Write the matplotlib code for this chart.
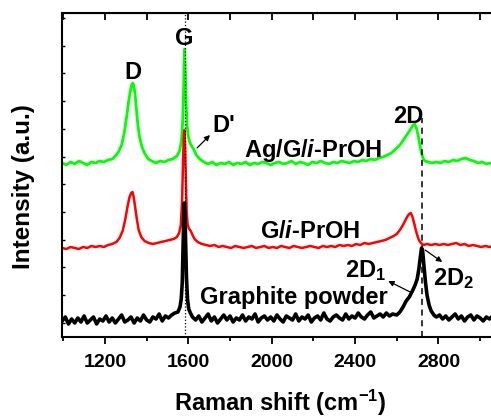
import matplotlib
matplotlib.use("Agg")
import matplotlib.pyplot as plt
from matplotlib.ticker import MultipleLocator

plt.rcParams['font.family'] = ['Liberation Sans', 'DejaVu Sans']
plt.rcParams['font.weight'] = 'bold'
plt.rcParams['mathtext.fontset'] = 'custom'
plt.rcParams['mathtext.rm'] = 'Liberation Sans:bold'
plt.rcParams['mathtext.bf'] = 'Liberation Sans:bold'
plt.rcParams['mathtext.it'] = 'Liberation Sans:italic:bold'

# Ag/G/i-PrOH spectrum (green), offset intensity
green_x = [995, 1015, 1035, 1055, 1075, 1095, 1115, 1135, 1155, 1175, 1195, 1215, 1235, 1250,
           1265, 1280, 1292, 1304, 1314, 1322, 1328, 1334, 1338, 1344, 1350, 1357, 1366, 1378,
           1392, 1408, 1425, 1445, 1465, 1485, 1505, 1525, 1545, 1558, 1567, 1573, 1577, 1580,
           1582, 1585, 1589, 1594, 1600, 1608, 1616, 1625, 1638, 1655, 1675, 1695, 1715, 1735,
           1755, 1775, 1795, 1815, 1835, 1855, 1875, 1895, 1915, 1935, 1955, 1975, 1995, 2015,
           2035, 2055, 2075, 2095, 2115, 2135, 2155, 2175, 2195, 2215, 2235, 2255, 2275, 2295,
           2315, 2335, 2355, 2375, 2395, 2415, 2435, 2455, 2475, 2495, 2515, 2535, 2555, 2575,
           2595, 2615, 2632, 2648, 2660, 2670, 2678, 2686, 2694, 2702, 2710, 2718, 2726, 2735,
           2750, 2770, 2790, 2810, 2830, 2850, 2870, 2890, 2910, 2930, 2950, 2970, 2990, 3010,
           3030, 3050, 3070, 3095]
green_y = [174, 172, 175, 173, 176, 174, 172, 175, 174, 176, 175, 177, 178, 181,
           185, 192, 203, 220, 236, 246, 252, 254, 252, 244, 230, 214, 200, 190,
           183, 178, 176, 174, 176, 175, 177, 178, 181, 186, 196, 215, 245, 275,
           288, 270, 238, 212, 200, 194, 191, 188, 182, 178, 175, 173, 175, 172,
           174, 173, 175, 172, 174, 173, 175, 172, 174, 173, 175, 174, 172, 174,
           175, 173, 174, 176, 173, 175, 174, 172, 175, 174, 176, 174, 173, 175,
           174, 176, 175, 174, 176, 175, 177, 176, 178, 177, 179, 180, 182, 184,
           188, 192, 197, 202, 206, 209, 212, 213, 209, 202, 193, 184, 179, 176,
           175, 174, 175, 174, 176, 175, 177, 176, 178, 179, 177, 176, 174, 175,
           173, 174, 173, 174]

# G/i-PrOH spectrum (red)
red_x = [995, 1015, 1035, 1055, 1075, 1095, 1115, 1135, 1155, 1175, 1195, 1215, 1235, 1255,
         1270, 1285, 1297, 1308, 1318, 1326, 1332, 1338, 1345, 1353, 1362, 1374, 1390, 1410,
         1430, 1450, 1470, 1490, 1510, 1530, 1545, 1556, 1564, 1570, 1574, 1578, 1581, 1584,
         1588, 1592, 1597, 1604, 1612, 1620, 1630, 1645, 1665, 1685, 1705, 1725, 1745, 1765,
         1785, 1805, 1825, 1845, 1865, 1885, 1905, 1925, 1945, 1965, 1985, 2005, 2025, 2045,
         2065, 2085, 2105, 2125, 2145, 2165, 2185, 2205, 2225, 2245, 2265, 2285, 2305, 2325,
         2345, 2365, 2385, 2405, 2425, 2445, 2465, 2485, 2505, 2525, 2545, 2565, 2585, 2600,
         2615, 2630, 2642, 2652, 2660, 2667, 2674, 2682, 2690, 2698, 2706, 2716, 2728, 2745,
         2765, 2785, 2805, 2825, 2845, 2865, 2885, 2905, 2925, 2945, 2965, 2985, 3005, 3025,
         3045, 3065, 3095]
red_y = [89, 88, 90, 89, 88, 90, 89, 91, 90, 91, 90, 92, 93, 95,
         99, 106, 117, 130, 140, 144, 145, 140, 130, 118, 107, 100, 96, 94,
         93, 94, 95, 96, 97, 98, 100, 104, 112, 135, 170, 200, 207, 195,
         160, 125, 112, 108, 106, 102, 98, 95, 93, 92, 91, 92, 90, 91,
         90, 89, 91, 90, 89, 90, 91, 89, 90, 91, 89, 90, 89, 91,
         90, 89, 91, 90, 89, 90, 91, 90, 89, 91, 90, 91, 90, 92,
         91, 92, 91, 93, 92, 94, 93, 94, 95, 96, 97, 99, 101, 103,
         107, 112, 117, 121, 123, 124, 121, 115, 108, 102, 97, 94, 92, 93,
         92, 93, 92, 93, 92, 93, 94, 92, 93, 91, 92, 91, 90, 91,
         90, 91, 90]

# Graphite powder spectrum (black)
black_x = [995, 1010, 1025, 1040, 1055, 1070, 1085, 1100, 1115, 1130, 1145, 1160, 1175, 1190,
           1205, 1220, 1235, 1250, 1265, 1280, 1295, 1310, 1325, 1340, 1355, 1370, 1385, 1400,
           1415, 1430, 1445, 1460, 1475, 1490, 1505, 1520, 1535, 1550, 1560, 1566, 1571, 1575,
           1578, 1581, 1584, 1587, 1591, 1596, 1602, 1610, 1620,
           1635, 1650, 1665, 1680, 1695, 1710, 1725, 1740, 1755, 1770, 1785, 1800, 1815, 1830,
           1845, 1860, 1875, 1890, 1905, 1920, 1935, 1950, 1965, 1980, 1995, 2010, 2025, 2040,
           2055, 2070, 2085, 2100, 2115, 2130, 2145, 2160, 2175, 2190, 2205, 2220, 2235, 2250,
           2265, 2280, 2295, 2310, 2325, 2340, 2355, 2370, 2385, 2400, 2415, 2430, 2445, 2460,
           2475, 2490, 2505, 2520, 2535, 2550, 2565, 2580,
           2600, 2615, 2630, 2645, 2660, 2675, 2688, 2698, 2706, 2713, 2719, 2724, 2730, 2737,
           2745, 2755, 2765, 2778, 2790,
           2805, 2820, 2835, 2850, 2865, 2880, 2895, 2910, 2925, 2940, 2955, 2970, 2985, 3000,
           3015, 3030, 3045, 3060, 3075, 3095]
black_y = [16, 20, 13, 18, 14, 19, 15, 21, 14, 17, 20, 13, 18, 16,
           21, 15, 19, 14, 18, 22, 15, 17, 20, 14, 19, 16, 22, 17,
           15, 20, 18, 23, 16, 21, 19, 22, 24, 25, 30, 38, 55, 90,
           120, 134, 122, 95, 60, 38, 28, 24, 20,
           17, 21, 15, 19, 23, 16, 20, 14, 18, 22, 17, 21, 15, 19,
           17, 22, 16, 20, 18, 23, 15, 19, 21, 17, 20, 16, 22, 18,
           15, 21, 19, 17, 23, 16, 20, 18, 22, 15, 19, 21, 17, 24,
           18, 16, 20, 22, 19, 17, 23, 18, 21, 19, 24, 20, 18, 22,
           25, 19, 21, 23, 20, 24, 21, 23,
           22, 25, 30, 36, 40, 46, 52, 58, 68, 80, 89, 86, 72, 56,
           42, 32, 26, 22, 20,
           22, 18, 21, 17, 20, 23, 18, 21, 16, 20, 22, 17, 21, 19,
           16, 20, 18, 21, 17, 19]

G_POS = 1582
D2_POS = 2721

fig = plt.figure(figsize=(4.91, 4.20), dpi=100)
ax = fig.add_axes([62 / 491, 83 / 420, 439 / 491, 324 / 420])

ax.plot(green_x, green_y, color='#00ff00', lw=2.0)
ax.plot(red_x, red_y, color='#ff0000', lw=1.8)
ax.plot(black_x, black_y, color='black', lw=2.6)

ax.axvline(G_POS, color='black', ls=':', lw=0.9)
ax.plot([D2_POS, D2_POS], [0, 219], color='black', ls=(0, (4, 3)), lw=1.1)

ax.set_xlim(994, 3100)
ax.set_ylim(0, 324)

# labels on peaks
fs = 17
ax.text(G_POS, 292, 'G', ha='center', va='baseline', fontsize=fs, fontweight='bold')
ax.text(1335, 258, 'D', ha='center', va='baseline', fontsize=fs, fontweight='bold')
ax.text(1715, 205, "D'", ha='left', va='baseline', fontsize=fs, fontweight='bold')
ax.text(2655, 214, '2D', ha='center', va='baseline', fontsize=fs, fontweight='bold')
ax.text(2199, 180, r'Ag/G/$\mathit{i}$-PrOH', ha='center', va='baseline', fontsize=fs, fontweight='bold')
ax.text(2184, 99, r'G/$\mathit{i}$-PrOH', ha='center', va='baseline', fontsize=fs, fontweight='bold')
ax.text(2108, 33, 'Graphite powder', ha='center', va='baseline', fontsize=fs, fontweight='bold')
ax.text(2352, 60, r'2D$_\mathregular{1}$', ha='left', va='baseline', fontsize=fs, fontweight='bold')
ax.text(2775, 52, r'2D$_\mathregular{2}$', ha='left', va='baseline', fontsize=fs, fontweight='bold')

arrow = dict(arrowstyle='-|>', color='black', lw=0.9, mutation_scale=8, shrinkA=0, shrinkB=0)
ax.annotate('', xy=(1704, 202), xytext=(1642, 189), arrowprops=arrow)
ax.annotate('', xy=(2559, 56), xytext=(2664, 45), arrowprops=arrow)
ax.annotate('', xy=(2818, 75), xytext=(2736, 87), arrowprops=arrow)

# axes styling
for s in ax.spines.values():
    s.set_linewidth(1.5)
ax.xaxis.set_major_locator(MultipleLocator(400))
ax.xaxis.set_minor_locator(MultipleLocator(200))
ax.tick_params(axis='x', which='major', direction='out', length=5, width=1.3,
               labelsize=14, pad=7)
ax.tick_params(axis='x', which='minor', direction='out', length=3, width=1.3)
for lbl in ax.get_xticklabels():
    lbl.set_fontweight('bold')

ax.set_yticks([14.3 + 27.7 * k for k in range(12)])
ax.tick_params(axis='y', which='both', direction='in', length=2.5, width=1.0, labelleft=False)

top = ax.secondary_xaxis('top')
top.xaxis.set_major_locator(MultipleLocator(200))
top.tick_params(direction='in', length=5, width=1.3, labeltop=False)

fig.text(280 / 491, 9 / 420, r'Raman shift (cm$^{\mathregular{-1}}$)', ha='center', va='baseline',
         fontsize=17, fontweight='bold')
fig.text(24 / 491, (420 - 187) / 420, 'Intensity (a.u.)', ha='center', va='center',
         rotation=90, fontsize=17.5, fontweight='bold')

fig.savefig('out.png', dpi=100)
